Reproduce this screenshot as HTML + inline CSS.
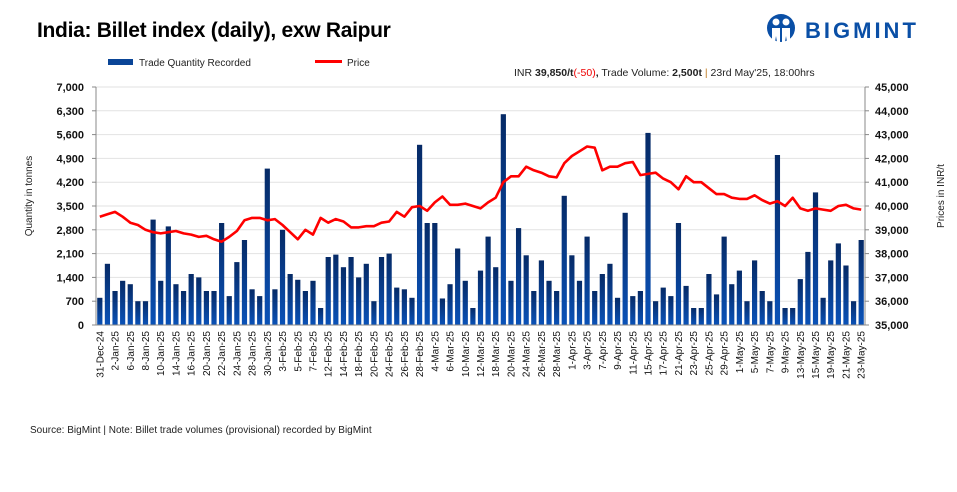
<!DOCTYPE html>
<html><head><meta charset="utf-8"><style>
body{margin:0;background:#fff;width:957px;height:492px;overflow:hidden;font-family:"Liberation Sans",Arial,sans-serif}
svg{display:block}
</style></head><body>
<svg id="chart" width="957" height="492" xmlns="http://www.w3.org/2000/svg">
<defs><linearGradient id="barg" x1="0" y1="0" x2="0" y2="1"><stop offset="0" stop-color="#062a66"/><stop offset="1" stop-color="#0a52b8"/></linearGradient></defs>
<text x="37" y="37" font-size="21" font-weight="bold" fill="#000" style="letter-spacing:-0.3px">India: Billet index (daily), exw Raipur</text>
<g>
<circle cx="781" cy="28" r="14" fill="#0a4fa6"/>
<circle cx="776" cy="22" r="3.5" fill="#fff"/><circle cx="786" cy="22" r="3.5" fill="#fff"/>
<path d="M772 28 h8 v14 h-3 l-1 -6 l-1 6 h-3z M782 28 h8 v14 h-3 l-1 -6 l-1 6 h-3z" fill="#fff"/>
<text x="805" y="38" font-size="22" font-weight="bold" fill="#0a4fa6" style="letter-spacing:3px">BIGMINT</text>
</g>
<g>
<rect x="108" y="59" width="25" height="6" fill="#0a4597"/>
<text x="139" y="66" font-size="10" fill="#222">Trade Quantity Recorded</text>
<rect x="315" y="60" width="27" height="3" fill="#ff0000"/>
<text x="347" y="66" font-size="10" fill="#222">Price</text>
</g>
<text x="514" y="76" font-size="10.5" fill="#222">INR <tspan font-weight="bold">39,850/t</tspan><tspan fill="#e00">(-50)</tspan><tspan font-weight="bold">,</tspan> Trade Volume: <tspan font-weight="bold">2,500t</tspan> <tspan fill="#c07a20">|</tspan> 23rd May'25, 18:00hrs</text>
<text x="32" y="196" font-size="10" fill="#222" transform="rotate(-90 32 196)" text-anchor="middle">Quantity in tonnes</text>
<text x="944" y="196" font-size="10" fill="#222" transform="rotate(-90 944 196)" text-anchor="middle">Prices in INR/t</text>
<g id="grid"></g><g id="bars"></g><g id="line"></g><g id="axes"></g>
<text x="30" y="433" font-size="10" fill="#222">Source: BigMint | Note: Billet trade volumes (provisional) recorded by BigMint</text>
</svg>
<script>
const dates=["31-Dec-24","1-Jan-25","2-Jan-25","3-Jan-25","6-Jan-25","7-Jan-25","8-Jan-25","9-Jan-25","10-Jan-25","13-Jan-25","14-Jan-25","15-Jan-25","16-Jan-25","17-Jan-25","20-Jan-25","21-Jan-25","22-Jan-25","23-Jan-25","24-Jan-25","27-Jan-25","28-Jan-25","29-Jan-25","30-Jan-25","31-Jan-25","3-Feb-25","4-Feb-25","5-Feb-25","6-Feb-25","7-Feb-25","10-Feb-25","12-Feb-25","13-Feb-25","14-Feb-25","17-Feb-25","18-Feb-25","19-Feb-25","20-Feb-25","21-Feb-25","24-Feb-25","25-Feb-25","26-Feb-25","27-Feb-25","28-Feb-25","3-Mar-25","4-Mar-25","5-Mar-25","6-Mar-25","7-Mar-25","10-Mar-25","11-Mar-25","12-Mar-25","17-Mar-25","18-Mar-25","19-Mar-25","20-Mar-25","21-Mar-25","24-Mar-25","25-Mar-25","26-Mar-25","27-Mar-25","28-Mar-25","31-Mar-25","1-Apr-25","2-Apr-25","3-Apr-25","4-Apr-25","7-Apr-25","8-Apr-25","9-Apr-25","10-Apr-25","11-Apr-25","14-Apr-25","15-Apr-25","16-Apr-25","17-Apr-25","18-Apr-25","21-Apr-25","22-Apr-25","23-Apr-25","24-Apr-25","25-Apr-25","28-Apr-25","29-Apr-25","30-Apr-25","1-May-25","2-May-25","5-May-25","6-May-25","7-May-25","8-May-25","9-May-25","12-May-25","13-May-25","14-May-25","15-May-25","16-May-25","19-May-25","20-May-25","21-May-25","22-May-25","23-May-25"];
const quantity=[800,1800,1000,1300,1200,700,700,3100,1300,2900,1200,1000,1500,1400,1000,1000,3000,850,1850,2500,1050,850,4600,1050,2800,1500,1330,1000,1300,500,2000,2070,1700,2000,1400,1800,700,2000,2100,1100,1050,800,5300,3000,3000,780,1200,2250,1300,500,1600,2600,1700,6200,1300,2850,2050,1000,1900,1300,1000,3800,2050,1300,2600,1000,1500,1800,800,3300,850,1000,5650,700,1100,850,3000,1150,500,500,1500,900,2600,1200,1600,700,1900,1000,700,5000,500,500,1350,2150,3900,800,1900,2400,1750,700,2500];
const price=[39550,39650,39750,39550,39300,39200,39000,38900,38850,38900,38950,38850,38800,38700,38750,38600,38500,38700,38950,39400,39500,39500,39400,39450,39200,38900,38600,39000,38800,39500,39300,39450,39350,39100,39100,39150,39150,39300,39350,39750,39550,39950,40000,39800,40150,40400,40050,40050,40100,40000,39900,40150,40350,41000,41250,41250,41650,41500,41400,41250,41200,41800,42100,42300,42500,42450,41500,41650,41650,41800,41850,41300,41350,41400,41150,41000,40700,41250,41000,41000,40750,40500,40500,40350,40300,40300,40450,40250,40100,40200,40000,40350,39900,39800,39900,39850,39800,40000,40050,39900,39850];
const leftTicks=[0,700,1400,2100,2800,3500,4200,4900,5600,6300,7000];
const rightTicks=[35000,36000,37000,38000,39000,40000,41000,42000,43000,44000,45000];
const NS="http://www.w3.org/2000/svg";
const X0=96,X1=865,Y0=325,Y1=87;
const n=dates.length,step=(X1-X0)/n;
const xPos=i=>X0+step*(i+0.5);
const yL=v=>Y0-(v-0)/(7000-0)*(Y0-Y1);
const yR=v=>Y0-(v-35000)/(45000-35000)*(Y0-Y1);
function mk(tag,attrs,parent,txt){const e=document.createElementNS(NS,tag);for(const k in attrs)e.setAttribute(k,attrs[k]);if(txt!==undefined)e.textContent=txt;parent.appendChild(e);return e;}
const grid=document.getElementById('grid'),bars=document.getElementById('bars'),line=document.getElementById('line'),axes=document.getElementById('axes');
leftTicks.forEach((t,i)=>{
  const y=yL(t);
  if(i>0){const g=mk('line',{x1:X0,x2:X1,y1:y,y2:y,stroke:'#e2e2e2','stroke-width':1},grid);
  
  }
  mk('line',{x1:X0-4,x2:X0,y1:y,y2:y,stroke:'#888'},axes);
  const l=mk('text',{x:X0-12,y:y+4,'font-size':11,'font-weight':'bold','text-anchor':'end',fill:'#111'},axes,t.toLocaleString('en-US'));
  
  
});
rightTicks.forEach(t=>{
  const y=yR(t);
  mk('line',{x1:X1,x2:X1+4,y1:y,y2:y,stroke:'#888'},axes);
  const l=mk('text',{x:X1+10,y:y+4,'font-size':11,'font-weight':'bold',fill:'#111'},axes,t.toLocaleString('en-US'));
  
  
});
quantity.forEach((v,i)=>{
  const r=mk('rect',{x:xPos(i)-2.6,y:yL(v),width:5.2,height:Y0-yL(v),fill:'url(#barg)'},bars);
  
  
});
const p=mk('polyline',{points:price.map((v,i)=>xPos(i).toFixed(1)+','+yR(v).toFixed(1)).join(' '),fill:'none',stroke:'#ff0000','stroke-width':2.6,'stroke-linejoin':'round'},line);


mk('line',{x1:X0,x2:X0,y1:Y1,y2:Y0,stroke:'#888'},axes);
mk('line',{x1:X1,x2:X1,y1:Y1,y2:Y0,stroke:'#888'},axes);
mk('line',{x1:X0,x2:X1,y1:Y0,y2:Y0,stroke:'#888'},axes);
dates.forEach((d,i)=>{
  if(i%2)return;
  const x=xPos(i)+3.5,y=Y0+6;
  const t=mk('text',{x:x,y:y,'font-size':10,'text-anchor':'end',fill:'#111',transform:'rotate(-90 '+x+' '+y+')'},axes,d);
  
  
});
</script>
</body></html>
